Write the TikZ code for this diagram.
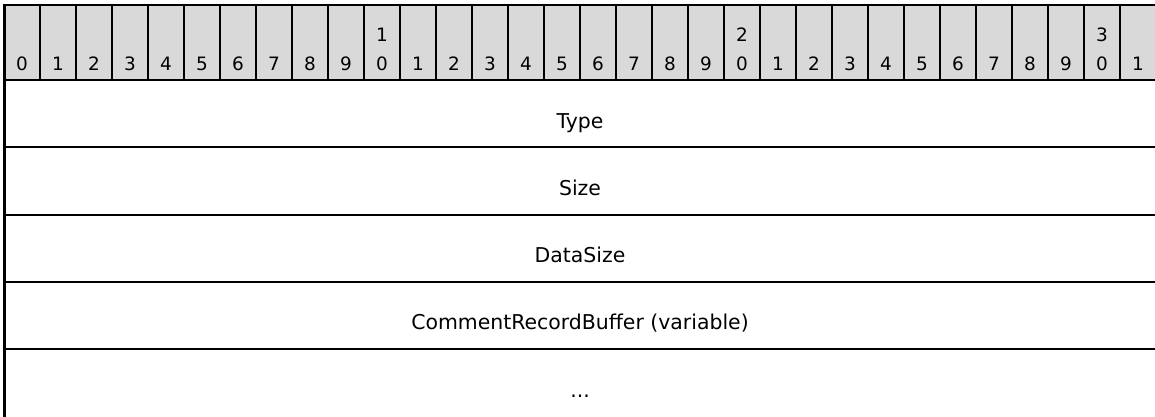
\documentclass[tikz,border=0pt]{standalone}
\usepackage{fontspec}
\setmainfont{DejaVu Sans}
\definecolor{hdrgray}{HTML}{D9D9D9}
\begin{document}
\begin{tikzpicture}[x=1bp,y=-1bp,
  bitlbl/.style={font=\fontsize{18.5}{22}\selectfont, anchor=base, inner sep=0pt},
  fieldlbl/.style={font=\fontsize{20.5}{24}\selectfont, anchor=base, inner sep=0pt},
  rowrule/.style={line width=2bp, black},
  borderrule/.style={line width=3bp, black}]
\useasboundingbox (0,0) rectangle (1155,416);
% header background
\fill[hdrgray] (4,5) rectangle (1158,80);
% header cell separators
\foreach \k in {1,...,31} {
  \draw[rowrule] (4+36*\k,5) -- (4+36*\k,80);
}
% bit numbers
\foreach \k in {0,...,31} {
  \pgfmathtruncatemacro\d{mod(\k,10)}
  \node[bitlbl] (b\k) at (22+36*\k,70) {\d};
}
\node[bitlbl] (t10) at (22+36*10,41.6) {1};
\node[bitlbl] (t20) at (22+36*20,41.6) {2};
\node[bitlbl] (t30) at (22+36*30,41.6) {3};
% horizontal rules
\draw[rowrule] (4,5) -- (1158,5);
\foreach \yy in {80,147.4,214.6,281.8,349} {
  \draw[rowrule] (4,\yy) -- (1158,\yy);
}
% left border
\draw[borderrule] (4,4) -- (4,420);
% fields
\node[fieldlbl] (type) at (580,128.3) {Type};
\node[fieldlbl] (size) at (580,195.5) {Size};
\node[fieldlbl] (datasize) at (580,262.7) {DataSize};
\node[fieldlbl] (crb) at (580,329.9) {CommentRecordBuffer (variable)};
\node[fieldlbl] (more) at (580,397.1) {...};
\end{tikzpicture}
\end{document}
